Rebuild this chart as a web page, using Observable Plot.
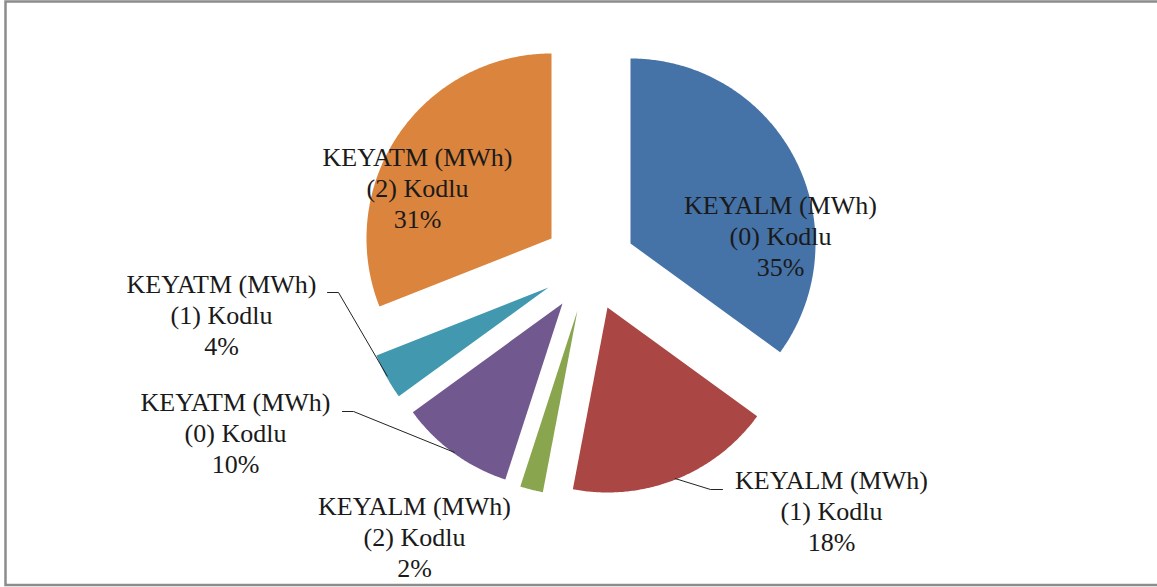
<!DOCTYPE html>
<html>
<head>
<meta charset="utf-8">
<script src="https://cdn.jsdelivr.net/npm/d3@7"></script>
<script src="https://cdn.jsdelivr.net/npm/@observablehq/plot@0.6"></script>
<style>
  html, body { margin: 0; padding: 0; background: #fff; }
  #chart svg { display: block; }
  #chart svg text { font-family: "Liberation Serif", "Times New Roman", serif; }
</style>
</head>
<body>
<div id="chart"></div>
<script>
// ---- data ----
const categories = ["KEYALM (MWh)", "KEYALM (MWh)", "KEYALM (MWh)", "KEYATM (MWh)", "KEYATM (MWh)", "KEYATM (MWh)"];
const codes = ["(0) Kodlu", "(1) Kodlu", "(2) Kodlu", "(0) Kodlu", "(1) Kodlu", "(2) Kodlu"];
const shares = [35, 18, 2, 10, 4, 31];

// ---- style / layout ----
const colors = ["#4572A7", "#AA4643", "#89A54E", "#71588F", "#4198AF", "#DB843D"];
const W = 1157, H = 587;
const pieCenter = [590, 272];
const radius = 185;
const explode = [[40, -29], [17, 35], [-13, 38], [-28, 31], [-42, 15], [-39, -34]];
const labelAt = [[780, 235], [831, 510], [414, 536], [235, 432], [221, 314], [417, 187]];
const leaderElbow = {1: [[710, 489], [722, 489]], 3: [[353, 411], [342, 411]], 4: [[338, 292], [327, 292]]};

const rows = shares.map((s, i) => ({
  key: categories[i] + " " + codes[i],
  label: `${categories[i]}\n${codes[i]}\n${s}%`,
  share: s,
  i
}));
const arcs = d3.pie().sort(null).value(d => d.share)(rows);

const slicePts = [];
const leaderPts = [];
arcs.forEach(a => {
  const i = a.data.i;
  const ax = pieCenter[0] + explode[i][0];
  const ay = pieCenter[1] + explode[i][1];
  slicePts.push({key: a.data.key, x: ax, y: ay});
  const n = Math.max(4, Math.ceil((a.endAngle - a.startAngle) / (Math.PI / 360)));
  for (let k = 0; k <= n; k++) {
    const t = a.startAngle + (a.endAngle - a.startAngle) * k / n;
    slicePts.push({key: a.data.key, x: ax + radius * Math.sin(t), y: ay - radius * Math.cos(t)});
  }
  slicePts.push({key: a.data.key, x: ax, y: ay});
  if (leaderElbow[i]) {
    const mid = (a.startAngle + a.endAngle) / 2;
    leaderPts.push({key: a.data.key, x: ax + (radius - 1) * Math.sin(mid), y: ay - (radius - 1) * Math.cos(mid)});
    leaderElbow[i].forEach(p => leaderPts.push({key: a.data.key, x: p[0], y: p[1]}));
  }
});

const labels = rows.map(r => ({label: r.label, x: labelAt[r.i][0], y: labelAt[r.i][1]}));

const chart = Plot.plot({
  width: W,
  height: H,
  margin: 0,
  x: {type: "identity", axis: null},
  y: {type: "identity", axis: null},
  color: {domain: rows.map(r => r.key), range: colors},
  style: {background: "#fff", fontFamily: "'Liberation Serif', 'Times New Roman', serif"},
  marks: [
    Plot.line(slicePts, {x: "x", y: "y", z: "key", fill: "key", stroke: "none", curve: "linear"}),
    Plot.line(leaderPts, {x: "x", y: "y", z: "key", stroke: "#222", strokeWidth: 1}),
    Plot.text(labels, {
      x: "x", y: "y", text: "label",
      fontFamily: "'Liberation Serif', 'Times New Roman', serif",
      fontSize: 26, lineHeight: 1.19, fill: "#1a1a1a",
      textAnchor: "middle", lineAnchor: "middle"
    }),
    Plot.frame({stroke: "#8c8c8c", strokeWidth: 2.5, insetLeft: 5, insetTop: 1, insetBottom: 2.5, insetRight: -5})
  ]
});
document.getElementById("chart").appendChild(chart);
</script>
</body>
</html>
